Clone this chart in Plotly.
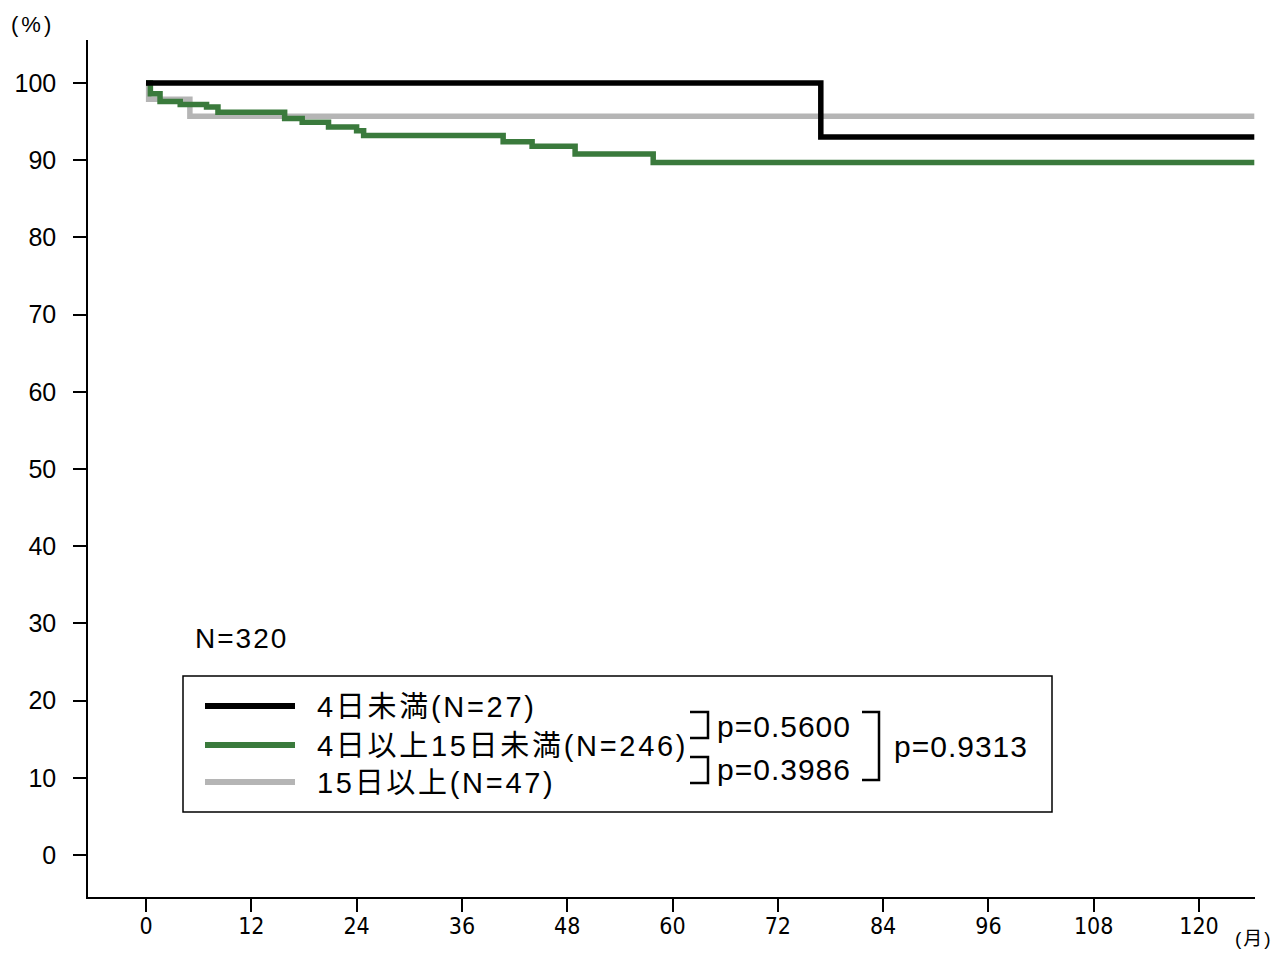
import plotly.graph_objects as go

# ---- data ----
months_lt4 = [0, 76.9, 126.3]
surv_lt4 = [100, 93.0, 93.0]

months_4to15 = [0, 0.5, 1.6, 3.9, 6.9, 8.2, 15.8, 17.8, 20.8, 24.0, 24.8, 40.7, 44.0, 48.9, 57.8, 126.3]
surv_4to15 = [100, 98.6, 97.6, 97.2, 96.9, 96.2, 95.4, 94.9, 94.3, 93.8, 93.2, 92.4, 91.8, 90.8, 89.7, 89.7]

months_ge15 = [0, 0.3, 5.0, 126.3]
surv_ge15 = [100, 97.9, 95.7, 95.7]

group_labels = ["4日未満(N=27)", "4日以上15日未満(N=246)", "15日以上(N=47)"]
group_colors = ["#000000", "#3a7a3c", "#b5b5b5"]
p_values = ["p=0.5600", "p=0.3986", "p=0.9313"]
total_label = "N=320"

x_ticks = [0, 12, 24, 36, 48, 60, 72, 84, 96, 108, 120]
y_ticks = [0, 10, 20, 30, 40, 50, 60, 70, 80, 90, 100]

# ---- layout geometry (pixels) ----
W, H = 1282, 953
L, R, T, B = 88, 1255, 40, 897

def px(x):
    return (x - L) / (R - L)

def py(y):
    return (B - y) / (B - T)

def spaced(text, sp):
    return f'<span style="letter-spacing:{sp}px">{text}</span>'

fig = go.Figure()
series = [(months_ge15, surv_ge15), (months_4to15, surv_4to15), (months_lt4, surv_lt4)]
order = [2, 1, 0]
for (xs, ys), i in zip(series, order):
    fig.add_trace(go.Scatter(x=xs, y=ys, mode="lines", line_shape="hv",
                             line=dict(color=group_colors[i], width=5.5),
                             name=group_labels[i], showlegend=False, hoverinfo="skip"))

shapes = []
shapes.append(dict(type="rect", xref="paper", yref="paper",
                   x0=px(183), x1=px(1052), y0=py(812), y1=py(676),
                   line=dict(color="black", width=1.5), fillcolor="white"))
ann = []
font_txt = "Liberation Sans, Noto Sans CJK JP"
rows_y = [706, 745, 782]
for i, yy in enumerate(rows_y):
    shapes.append(dict(type="line", xref="paper", yref="paper",
                       x0=px(205), x1=px(295), y0=py(yy), y1=py(yy),
                       line=dict(color=group_colors[i], width=6)))
    ann.append(dict(xref="paper", yref="paper", x=px(315), y=py(yy + 1), xanchor="left", yanchor="middle",
                    text=spaced(group_labels[i], 2.7), showarrow=False,
                    font=dict(family=font_txt, size=29, color="black")))

def bracket(x_left, x_right, y_top, y_bot):
    return dict(type="path", xref="paper", yref="paper",
                path=f"M {px(x_left)},{py(y_top)} L {px(x_right)},{py(y_top)} L {px(x_right)},{py(y_bot)} L {px(x_left)},{py(y_bot)}",
                line=dict(color="black", width=2.5))

shapes.append(bracket(690, 708, 712, 738))
shapes.append(bracket(690, 708, 757, 783))
shapes.append(bracket(862, 879, 712, 780))

p_pos = [(715, 726), (715, 769), (892, 746)]
for t, (xx, yy) in zip(p_values, p_pos):
    ann.append(dict(xref="paper", yref="paper", x=px(xx), y=py(yy), xanchor="left", yanchor="middle",
                    text=spaced(t, 1), showarrow=False, font=dict(family=font_txt, size=30, color="black")))
ann.append(dict(xref="paper", yref="paper", x=px(193), y=py(638), xanchor="left", yanchor="middle",
                text=spaced(total_label, 2), showarrow=False, font=dict(family=font_txt, size=28, color="black")))
ann.append(dict(xref="paper", yref="paper", x=px(9), y=py(25), xanchor="left", yanchor="middle",
                text=spaced("(%)", 3), showarrow=False, font=dict(family=font_txt, size=22, color="black")))
ann.append(dict(xref="paper", yref="paper", x=px(1233), y=py(939), xanchor="left", yanchor="middle",
                text=spaced("(月)", 2), showarrow=False, font=dict(family=font_txt, size=19, color="black")))

fig.update_layout(
    width=W, height=H, autosize=False,
    margin=dict(l=L, r=W - R, t=T, b=H - B, pad=0, autoexpand=False),
    plot_bgcolor="white", paper_bgcolor="white",
    shapes=shapes, annotations=ann,
    showlegend=False,
)
fig.update_xaxes(range=[-6.61, 126.38], tickvals=x_ticks, ticktext=[str(v) for v in x_ticks],
                 showgrid=False, zeroline=False, showline=True, linecolor="black", linewidth=1.5,
                 ticks="outside", ticklen=13, tickwidth=2, tickcolor="black", ticklabelstandoff=-5,
                 automargin=False,
                 tickfont=dict(family="Liberation Sans Narrow, DejaVu Sans Condensed, Liberation Sans", size=23, color="black"))
fig.update_yaxes(range=[-5.44, 105.57], tickvals=y_ticks, ticktext=[str(v) for v in y_ticks],
                 showgrid=False, zeroline=False, showline=True, linecolor="black", linewidth=1.5,
                 ticks="outside", ticklen=13, tickwidth=2, tickcolor="black", ticklabelstandoff=12,
                 automargin=False,
                 tickfont=dict(family="Liberation Sans", size=25, color="black"))

fig.write_html("out.html", config={"responsive": False, "displayModeBar": False},
               post_script="document.body.style.margin='0';document.body.style.overflow='hidden';")
